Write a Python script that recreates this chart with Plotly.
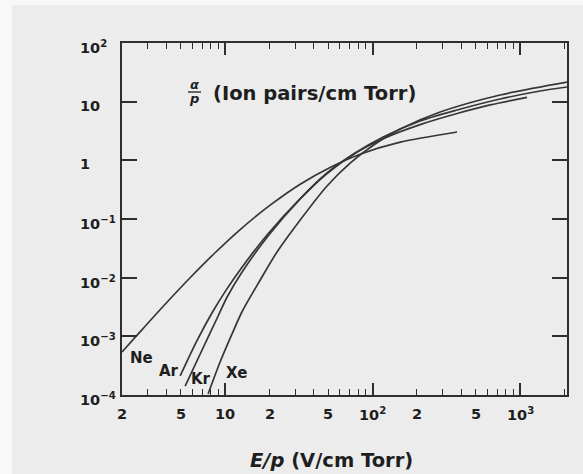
import math
import plotly.graph_objects as go

# Reduced first Townsend coefficient alpha/p (ion pairs/cm Torr)
# against reduced field E/p (V/cm Torr) for the noble gases
ne_ep = [2.0, 2.65, 3.92, 5.79, 8.55, 12.6, 20.2, 32.3, 51.5, 82.3, 154, 374]
ne_ap = [5.4e-4, 1.19e-3, 3.52e-3, 9.96e-3, 0.0266, 0.0655, 0.172, 0.392, 0.757, 1.27, 2.04, 3.04]

ar_ep = [4.96, 6.36, 8.16, 10.16, 12.84, 19.56, 32.3, 49.1, 76.1, 118, 210, 374, 626, 1115]
ar_ap = [2.11e-4, 7.88e-4, 2.52e-3, 6.14e-3, 0.0144, 0.0559, 0.223, 0.596, 1.32, 2.34, 4.06, 6.28, 8.80, 11.8]

kr_ep = [5.36, 6.88, 8.97, 10.32, 13.04, 19.56, 32.3, 49.1, 76.1, 118, 210, 374, 732, 1366, 2080]
kr_ap = [1.42e-4, 5.41e-4, 2.22e-3, 4.68e-3, 0.0125, 0.0513, 0.219, 0.608, 1.33, 2.50, 4.68, 7.21, 11.1, 15.2, 17.8]

xe_ep = [7.67, 9.25, 11.15, 13.0, 17.3, 22.5, 32.3, 49.1, 70.4, 104, 154, 287, 732, 2080]
xe_ap = [1.04e-4, 3.65e-4, 1.10e-3, 2.60e-3, 9.12e-3, 0.0274, 0.0961, 0.365, 0.900, 1.90, 3.42, 6.66, 13.0, 21.6]

gases = [("Ne", ne_ep, ne_ap), ("Ar", ar_ep, ar_ap), ("Kr", kr_ep, kr_ap), ("Xe", xe_ep, xe_ap)]

x_tickvals = [2, 5, 10, 20, 50, 100, 200, 500, 1000]
x_ticktext = ["2", "5", "10", "2", "5", "10<sup>2</sup>", "2", "5", "10<sup>3</sup>"]
y_tickvals = [1e2, 1e1, 1, 1e-1, 1e-2, 1e-3, 1e-4]
y_ticktext = ["10<sup>2</sup>", "10", "1", "10<sup>\u22121</sup>", "10<sup>\u22122</sup>",
              "10<sup>\u22123</sup>", "10<sup>\u22124</sup>"]
x_major = [10, 100, 1000]
x_minor = [3, 4, 5, 6, 7, 8, 9, 20, 30, 40, 50, 60, 70, 80, 90,
           200, 300, 400, 500, 600, 700, 800, 900, 2000]

W, H = 583, 474
L, R, T, B = 122, 567, 43, 395
INK = "#2e2e2e"
TXT = "#1e1e1e"
FONT = "DejaVu Sans"


def px(x):
    return (x - L) / (R - L)


def py(y):
    return (B - y) / (B - T)


def label(x, y, text, size, xanchor="center", italic=False, **kw):
    return dict(x=x, y=y, text=text, showarrow=False, xanchor=xanchor, yanchor="middle",
                font=dict(family=FONT, size=size, color=TXT, weight="bold"), **kw)


fig = go.Figure()
for name, ep, ap in gases:
    fig.add_trace(go.Scatter(x=ep, y=ap, mode="lines", name=name,
                             line=dict(color="#363636", width=1.7, shape="spline", smoothing=0.8),
                             showlegend=False))

fig.update_layout(
    width=W, height=H,
    margin=dict(l=L, r=W - R, t=T, b=H - B),
    paper_bgcolor="#ececec", plot_bgcolor="#ececec",
    xaxis=dict(type="log", range=[math.log10(2), math.log10(2080)], showline=True,
               linecolor=INK, linewidth=2, mirror="ticks", ticks="inside", tickvals=x_major,
               ticklen=12, tickwidth=1.5, tickcolor=INK, showticklabels=False,
               showgrid=False, zeroline=False,
               minor=dict(tickvals=x_minor, ticks="inside", ticklen=6, tickwidth=1.3,
                          tickcolor=INK, showgrid=False)),
    yaxis=dict(type="log", range=[-4, 2], showline=True, linecolor=INK, linewidth=2,
               mirror="ticks", ticks="inside", tickvals=y_tickvals, ticklen=15, tickwidth=1.5,
               tickcolor=INK, showticklabels=False, showgrid=False, zeroline=False),
)

ann = []
# y tick labels
for v, t in zip(y_tickvals, y_ticktext):
    ann.append(label(px(78), math.log10(v), t, 14.5, xanchor="left",
                     xref="paper", yref="y", yshift=-4))
# x tick labels
for v, t in zip(x_tickvals, x_ticktext):
    ann.append(label(math.log10(v), py(414), t, 14.5, xref="x", yref="paper"))

# gas labels
label_pos = {"Ne": (141, 358), "Ar": (169, 371), "Kr": (201, 379), "Xe": (236, 373)}
for name, _, _ in gases:
    lx, ly = label_pos[name]
    ann.append(label(px(lx), py(ly), name, 15, xref="paper", yref="paper"))

# axis titles
ann.append(label(px(331), py(460), "<i>E/p</i> (V/cm Torr)", 19.5, xref="paper", yref="paper"))
ann.append(label(px(211), py(93), "(Ion pairs/cm Torr)", 19.5, xanchor="left",
                 xref="paper", yref="paper"))
ann.append(label(px(194), py(85), "<i>\u03b1</i>", 13, xref="paper", yref="paper"))
ann.append(label(px(194), py(98), "<i>p</i>", 13, xref="paper", yref="paper"))
fig.update_layout(annotations=ann)

fig.add_shape(type="line", xref="paper", yref="paper", x0=px(188), x1=px(201),
              y0=py(92), y1=py(92), line=dict(color=TXT, width=1.3))
# lighter scan border on the left and top edges
fig.add_shape(type="rect", xref="paper", yref="paper", x0=px(0), x1=px(12), y0=py(H), y1=py(0),
              fillcolor="#f8f8f8", line=dict(width=0), layer="below")
fig.add_shape(type="rect", xref="paper", yref="paper", x0=px(0), x1=px(W), y0=py(5), y1=py(0),
              fillcolor="#f8f8f8", line=dict(width=0), layer="below")

fig.write_html("out.html")
